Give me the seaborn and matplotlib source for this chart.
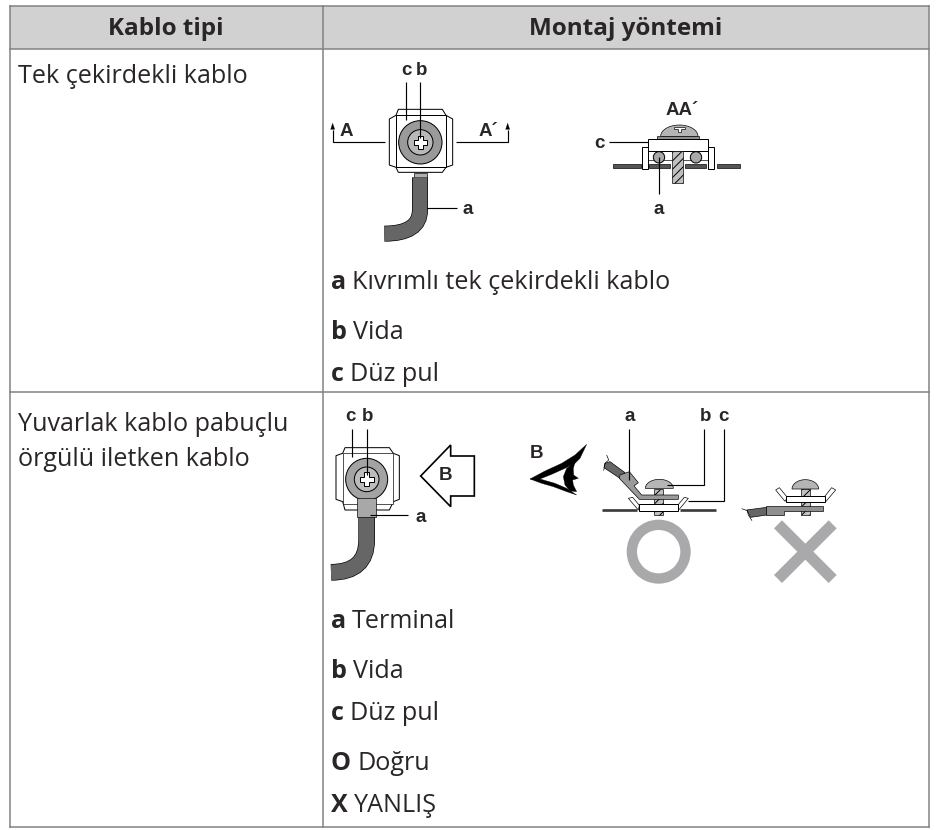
import numpy as np
import matplotlib
matplotlib.use("Agg")
import matplotlib.pyplot as plt
import seaborn as sns
from matplotlib.patches import Polygon, Circle, Rectangle, Wedge, PathPatch
from matplotlib.path import Path
from matplotlib.transforms import Affine2D
import matplotlib.patheffects as pe

sns.set_theme(style="white")
plt.rcParams['hatch.linewidth'] = 0.7

HEADERS = ["Kablo tipi", "Montaj yöntemi"]
ROW1_TYPE = ["Tek çekirdekli kablo"]
ROW2_TYPE = ["Yuvarlak kablo pabuçlu", "örgülü iletken kablo"]
ROW1_KEYS = ["a", "b", "c"]
ROW1_DESC = ["Kıvrımlı tek çekirdekli kablo", "Vida", "Düz pul"]
ROW2_KEYS = ["a", "b", "c", "O", "X"]
ROW2_DESC = ["Terminal", "Vida", "Düz pul", "Doğru", "YANLIŞ"]
ROW1_Y = [282.5, 332.5, 374.5]
ROW2_Y = [621.5, 671.5, 713.5, 763.5, 805.5]

BODY = "Open Sans"
LABEL = "Liberation Sans"
INK = "#2a2627"
RULE = "#808080"
SIZE = 18.1
HEAD_SIZE = 17.5

fig = plt.figure(figsize=(9.39, 8.30), dpi=100, facecolor="white")
ax = fig.add_axes([0, 0, 1, 1])
ax.set_xlim(0, 939)
ax.set_ylim(830, 0)
ax.axis("off")

PX = 0.72

# ---------- table ----------
ax.add_patch(Rectangle((10, 6), 919, 43, fc="#d1d1d1", ec="none", zorder=1))
for x0, y0, x1, y1 in [(10, 6, 929, 6), (10, 49, 929, 49), (10, 392, 929, 392), (10, 827, 929, 827),
                       (10, 6, 10, 827), (323, 6, 323, 827), (929, 6, 929, 827)]:
    ax.plot([x0, x1], [y0, y1], color=RULE, lw=1.5 * PX, zorder=2, solid_capstyle="projecting")

ax.text(166, 29, HEADERS[0], ha="center", va="center", family=BODY, weight="bold", size=HEAD_SIZE, color=INK)
ax.text(626, 29, HEADERS[1], ha="center", va="center", family=BODY, weight="bold", size=HEAD_SIZE, color=INK)
for line, y in zip(ROW1_TYPE, [76.5]):
    ax.text(18, y, line, ha="left", va="center", family=BODY, size=SIZE, color=INK)
for line, y in zip(ROW2_TYPE, [424, 459]):
    ax.text(18, y, line, ha="left", va="center", family=BODY, size=SIZE, color=INK)

fig.canvas.draw()
def legend(keys, desc, ys):
    for k, d, y in zip(keys, desc, ys):
        t = ax.text(331, y, k, ha="left", va="center", family=BODY, weight="bold", size=SIZE, color=INK)
        bb = t.get_window_extent(fig.canvas.get_renderer())
        ax.text(bb.x1 + 6, y, d, ha="left", va="center", family=BODY, size=SIZE, color=INK)

legend(ROW1_KEYS, ROW1_DESC, ROW1_Y)
legend(ROW2_KEYS, ROW2_DESC, ROW2_Y)

# ---------- drawing helpers: coordinates below are in 3x crop space ----------
class Crop:
    def __init__(self, x0, y0):
        self.tr = Affine2D().scale(1 / 3).translate(x0, y0) + ax.transData
    def line(self, pts, lw=3.5, c="black", z=5):
        p = np.array(pts, float)
        ax.plot(p[:, 0], p[:, 1], color=c, lw=lw / 3 * PX, transform=self.tr, zorder=z,
                solid_capstyle="butt", solid_joinstyle="miter")
    def poly(self, pts, fc="white", ec="black", lw=3, z=4):
        ax.add_patch(Polygon(pts, closed=True, fc=fc, ec=ec, lw=lw / 3 * PX, transform=self.tr, zorder=z))
    def rect(self, x0, y0, x1, y1, **kw):
        self.poly([(x0, y0), (x1, y0), (x1, y1), (x0, y1)], **kw)
    def hatched(self, x0, y0, x1, y1, z=5):
        ax.add_patch(Polygon([(x0, y0), (x1, y0), (x1, y1), (x0, y1)], closed=True, fc="#c0c0c0", ec="black",
                             hatch="////", lw=2 / 3 * PX, transform=self.tr, zorder=z))
    def circ(self, x, y, r, fc, ec="black", lw=3, z=4):
        ax.add_patch(Circle((x, y), r, fc=fc, ec=ec, lw=lw / 3 * PX, transform=self.tr, zorder=z))
    def dome(self, cx, base, rx, ry, fc="#b5b5b5", z=5):
        t = np.linspace(np.pi, 2 * np.pi, 30)
        self.poly(np.c_[cx + rx * np.cos(t), base + ry * np.sin(t)], fc=fc, lw=2, z=z)
    def label(self, x, y, s):
        px = ax.transData.inverted().transform(self.tr.transform((x, y)))
        ax.text(px[0], px[1], s, ha="center", va="center", family=LABEL, weight="bold", size=13.5, color=INK, zorder=8)
    def plus(self, x, y, a=20, b=8):
        self.poly([(x - b, y - a), (x + b, y - a), (x + b, y - b), (x + a, y - b), (x + a, y + b), (x + b, y + b),
                   (x + b, y + a), (x - b, y + a), (x - b, y + b), (x - a, y + b), (x - a, y - b), (x - b, y - b)],
                  fc="white", lw=3, z=6)
    def cable(self, verts, codes, width=48, fc="#666666"):
        ln = PathPatch(Path(verts, codes), fc="none", ec=fc, lw=(width - 4) / 3 * PX, transform=self.tr, zorder=4,
                       capstyle="butt",
                       path_effects=[pe.Stroke(linewidth=width / 3 * PX, foreground="black"), pe.Normal()])
        ax.add_patch(ln)
    def arrowhead(self, x, y):
        self.poly([(x - 6, y + 18), (x, y), (x + 6, y + 18)], fc="black", ec="black", lw=1, z=6)

# ---------- row 1: front view ----------
c = Crop(320, 70)
c.poly([(235, 118), (367, 118), (378, 136), (398, 147), (398, 285), (378, 292), (367, 307), (235, 307),
        (228, 292), (208, 285), (208, 147), (228, 136)], fc="white")
c.rect(228, 136, 378, 291, fc="white")
c.circ(301, 217, 65, "#9a9a9a")
c.circ(301, 217, 38, "#b8b8b8")
c.plus(301, 217, 20, 7)
c.line([(258, 35), (258, 150)], z=7)
c.line([(301, 35), (301, 205)], z=7)
c.line([(38, 180), (38, 216), (195, 216)])
c.line([(563, 180), (563, 216), (408, 216)])
c.arrowhead(38, 160)
c.arrowhead(563, 160)
c.rect(283, 308, 320, 323, fc="#b0b0b0", lw=2)
c.cable([(300, 322), (300, 420), (300, 491), (193, 491)], [Path.MOVETO, Path.LINETO, Path.CURVE3, Path.CURVE3])
c.line([(320, 413), (410, 413)], z=7)
c.label(258, 3, "c")
c.label(305, 3, "b")
c.label(80, 186, "A")
c.label(505, 186, "A´")
c.label(442, 418, "a")

# ---------- row 1: section AA' ----------
c.dome(1078, 199, 56, 34)
c.poly([(1061, 172), (1094, 172), (1094, 178), (1083, 178), (1083, 187), (1073, 187), (1073, 178), (1061, 178)], fc="white", lw=2, z=6)
c.rect(1012, 197, 1137, 208, fc="#8f8f8f", lw=2, z=5)
c.rect(985, 208, 1163, 243, fc="white", z=5)
c.poly([(985, 243), (985, 270), (1163, 270), (1163, 243)], fc="white", lw=2, z=2.5)
c.rect(965, 230, 985, 298, fc="white", z=5)
c.rect(1163, 230, 1181, 298, fc="white", z=5)
for x0, x1 in [(880, 962), (988, 1050), (1096, 1158), (1190, 1260)]:
    c.rect(x0, 282, x1, 295, fc="#555555", lw=2, z=4)
c.hatched(1055, 243, 1088, 340)
c.circ(1017, 262, 17, "#a8a8a8", z=5)
c.circ(1128, 262, 17, "#a8a8a8", z=5)
c.line([(868, 217), (985, 217)], z=7)
c.line([(1017, 262), (1017, 372)], z=7)
c.label(838, 220, "c")
c.label(1085, 122, "AA´")
c.label(1017, 418, "a")

# ---------- row 2: front view ----------
d = Crop(320, 400)
d.poly([(75, 143), (208, 143), (220, 160), (238, 167), (238, 298), (220, 305), (208, 330), (75, 330),
        (68, 305), (48, 298), (48, 167), (68, 160)], fc="white")
d.rect(68, 160, 220, 312, fc="white", lw=2)
d.circ(140, 238, 63, "#a3a3a3", z=5)
d.circ(140, 238, 37, "#bcbcbc", z=5)
d.plus(140, 238, 21, 7)
d.cable([(140, 345), (140, 420), (140, 517), (33, 517)], [Path.MOVETO, Path.LINETO, Path.CURVE3, Path.CURVE3], width=50)
d.rect(112, 293, 167, 352, fc="#a8a8a8", lw=2, z=5)
d.line([(97, 88), (97, 172)], z=7)
d.line([(140, 88), (140, 225)], z=7)
d.line([(150, 345), (265, 345)], z=7)
d.poly([(302, 228), (392, 135), (392, 168), (463, 168), (463, 288), (392, 288), (392, 320)], fc="white", lw=5)
d.label(92, 48, "c")
d.label(143, 48, "b")
d.label(301, 352, "a")
d.label(378, 225, "B")

# ---------- row 2: side views ----------
e = Crop(510, 400)
e.label(80, 160, "B")
# eye
g = Crop(525, 435)
g.poly([(15, 132), (60, 108), (110, 85), (150, 60), (185, 28), (165, 70), (150, 85), (120, 100), (80, 118), (45, 132)],
       fc="black", ec="black", lw=1, z=6)
g.poly([(15, 132), (45, 132), (90, 145), (125, 160), (155, 180), (125, 170), (85, 155), (50, 145)],
       fc="black", ec="black", lw=1, z=6)
g.poly([(150, 82), (125, 100), (115, 125), (120, 150), (135, 168), (155, 170), (145, 150), (143, 135), (160, 130),
        (146, 120), (145, 100)], fc="black", ec="black", lw=1, z=6)
# OK side view
e.line([(275, 329), (380, 329)], lw=8, c="#3a3a3a")
e.line([(510, 329), (618, 329)], lw=8, c="#3a3a3a")
e.hatched(432, 268, 460, 346, z=3.5)
e.poly([(388, 313), (503, 313), (503, 332), (388, 332)], fc="white", z=5)
e.poly([(355, 295), (368, 292), (388, 316), (385, 330)], fc="white", lw=2, z=4.5)
e.poly([(535, 295), (523, 292), (503, 316), (506, 330)], fc="white", lw=2, z=4.5)
e.poly([(330, 225), (358, 215), (385, 248), (372, 258), (395, 285), (505, 285), (505, 298), (388, 298), (328, 235)], fc="#9a9a9a", lw=2, z=5)
e.poly([(285, 190), (300, 185), (345, 218), (330, 235), (282, 203)], fc="#666666", lw=2, z=4.5)
e.line([(290, 165), (296, 180), (285, 190), (281, 212)], lw=2)
e.dome(448, 265, 42, 27)
e.line([(357, 88), (357, 240)], z=7)
e.line([(583, 88), (583, 254), (470, 254)], z=7)
e.line([(641, 88), (641, 302), (535, 302)], z=7)
e.label(360, 48, "a")
e.label(588, 48, "b")
e.label(640, 48, "c")
# wrong side view
e.hatched(873, 268, 901, 346, z=3.5)
e.dome(886, 267, 40, 28)
e.poly([(828, 288), (946, 288), (946, 306), (828, 306)], fc="white", z=5)
e.poly([(797, 270), (808, 263), (832, 292), (825, 304)], fc="white", lw=2, z=4.5)
e.poly([(977, 270), (965, 263), (942, 292), (948, 304)], fc="white", lw=2, z=4.5)
e.poly([(768, 319), (940, 319), (940, 333), (822, 333), (822, 346), (768, 346)], fc="#8f8f8f", lw=2, z=5)
e.poly([(710, 330), (770, 322), (770, 345), (722, 352)], fc="#666666", lw=2, z=4.5)
e.line([(695, 326), (712, 332), (715, 345), (726, 362)], lw=2)
# O and X marks
GREY = "#a9a9ab"
ax.add_patch(Wedge((446, 455), 96, 0, 360, width=31, fc=GREY, ec="none", transform=e.tr, zorder=4))
e.poly([(816, 361), (886, 431), (956, 361), (980, 385), (910, 455), (980, 525), (956, 549), (886, 479), (816, 549),
        (792, 525), (862, 455), (792, 385)], fc=GREY, ec="none", lw=0)

fig.savefig("out.png", dpi=100, facecolor="white")
